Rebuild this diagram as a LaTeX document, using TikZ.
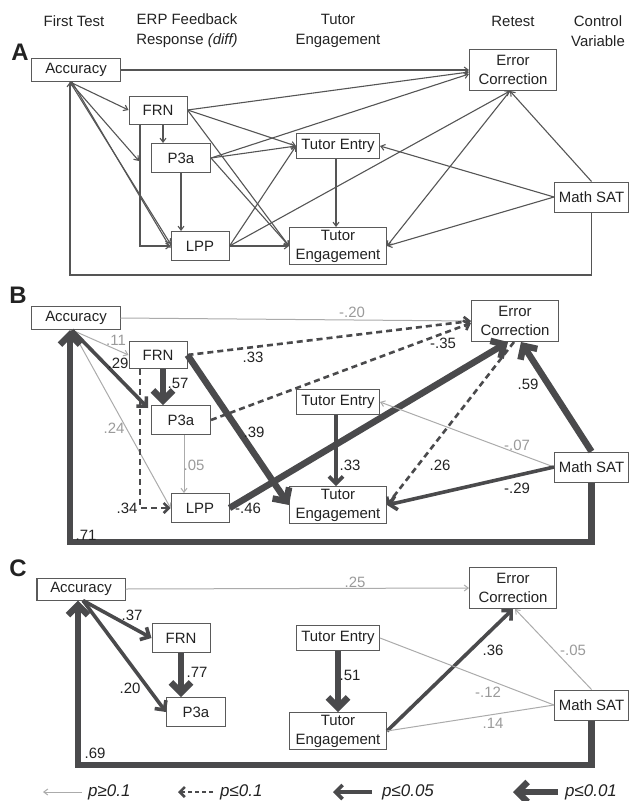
\documentclass[tikz,border=0pt]{standalone}
\usepackage{fontspec}
\setmainfont{Liberation Sans}
\usetikzlibrary{arrows.meta}
\definecolor{linedark}{HTML}{4A4A4C}
\definecolor{linemid}{HTML}{555555}
\definecolor{linelight}{HTML}{ABABAB}
\definecolor{boxline}{HTML}{5A5A5A}
\definecolor{txt}{HTML}{222222}
\definecolor{txtlight}{HTML}{9A9A9A}

\begin{document}
\begin{tikzpicture}[x=1bp, y=-1bp,
    font=\fontsize{15}{19}\selectfont,
    box/.style={draw=boxline, line width=1bp, fill=white, text=txt, inner sep=0pt, align=center},
    head/.style={text=txt, align=center, font=\fontsize{15}{20}\selectfont},
    panel/.style={text=txt, font=\fontsize{24}{24}\selectfont\bfseries},
    coef/.style={text=txt, inner sep=1bp},
    coefns/.style={text=txtlight, inner sep=1bp},
    legtext/.style={text=txt, anchor=west, inner sep=0pt, font=\fontsize{17}{17}\selectfont\itshape},
    path/.style={draw=linemid, line width=1.1bp, -{Straight Barb[length=4bp,width=6bp]}},
    nsig/.style={draw=linelight, line width=1bp, -{Straight Barb[length=4bp,width=6bp]}},
    sig10/.style={draw=linedark, line width=2.6bp, dash pattern=on 6bp off 4bp, -{Straight Barb[length=5bp,width=10bp]}},
    sig05/.style={draw=linedark, line width=3.6bp, -{Straight Barb[length=7bp,width=14bp]}},
    sig01/.style={draw=linedark, line width=6.5bp, -{Straight Barb[length=10bp,width=20bp]}}]

    \useasboundingbox (0,0) rectangle (629,801);

    %column headings
    \node at (74, 21) [head] (hFirst) {First Test};
    \node at (187, 31) [head] (hERP) {ERP Feedback\\Response \textit{(diff)}};
    \node at (338, 31) [head] (hTutor) {Tutor\\Engagement};
    \node at (513, 21) [head] (hRetest) {Retest};
    \node at (598, 31) [head] (hControl) {Control\\Variable};

    %%%% A: full model
    \node at (20, 52) [panel] (lblA) {A};
    \node at (76, 70) [box, minimum width=89bp, minimum height=23bp] (accA) {Accuracy};
    \node at (158, 110) [box, minimum width=58bp, minimum height=28bp] (frnA) {FRN};
    \node at (181, 158) [box, minimum width=59bp, minimum height=29bp] (p3aA) {P3a};
    \node at (200, 246) [box, minimum width=58bp, minimum height=29bp] (lppA) {LPP};
    \node at (338, 146) [box, minimum width=83bp, minimum height=25bp] (teA) {Tutor Entry};
    \node at (338, 246) [box, minimum width=97bp, minimum height=37bp] (tengA) {Tutor\\Engagement};
    \node at (513, 70) [box, minimum width=87bp, minimum height=41bp] (ecA) {Error\\Correction};
    \node at (591.5, 197) [box, minimum width=74bp, minimum height=30bp] (msatA) {Math SAT};
    \coordinate (cornerA) at (70, 275);

    \draw[path] (accA.east) -- (ecA.west);
    \draw[path] ([xshift=-6bp]accA.south) -- (frnA.west);
    \draw[path] ([xshift=-6bp]accA.south) -- ([xshift=-12bp,yshift=-3bp]p3aA.west);
    \draw[path] ([xshift=-6bp]accA.south) -- ([yshift=2bp]lppA.west);
    \draw[path] ([xshift=-4bp]accA.south) -- ([yshift=-2bp]lppA.west);
    \draw[path] ([xshift=-18bp]frnA.south) |- (lppA.west);
    \draw[path] ([xshift=5bp]frnA.south) -- ([xshift=5bp]frnA.south |- p3aA.north);
    \draw[path] (frnA.east) -- ([yshift=-2bp]ecA.west);
    \draw[path] (frnA.east) -- (teA.west);
    \draw[path] (frnA.east) -- (tengA.west);
    \draw[path] (p3aA.east) -- ([yshift=-4bp]ecA.west);
    \draw[path] (p3aA.east) -- (teA.west);
    \draw[path] (p3aA.east) -- (tengA.west);
    \draw[path] (p3aA.south) -- (p3aA.south |- lppA.north);
    \draw[path] (lppA.east) -- (teA.west);
    \draw[path] (lppA.east) -- ([xshift=-3bp]ecA.south);
    \draw[path] (lppA.east) -- (tengA.west);
    \draw[path] ([xshift=-2bp]teA.south) -- ([xshift=-2bp]teA.south |- tengA.north);
    \draw[path] (msatA.west) -- (teA.east);
    \draw[path] (msatA.west) -- (tengA.east);
    \draw[path] (msatA.north) -- ([xshift=-3bp]ecA.south);
    \draw[path] ([xshift=-3bp]ecA.south) -- (tengA.east);
    \draw[path] (msatA.south) |- (cornerA) -- (cornerA |- accA.south);

    %%%% B: ERP model
    \node at (18, 295) [panel] (lblB) {B};
    \node at (76, 318) [box, minimum width=88bp, minimum height=23bp] (accB) {Accuracy};
    \node at (158, 355) [box, minimum width=58bp, minimum height=27bp] (frnB) {FRN};
    \node at (181, 420) [box, minimum width=59bp, minimum height=29bp] (p3aB) {P3a};
    \node at (200, 508) [box, minimum width=58bp, minimum height=29bp] (lppB) {LPP};
    \node at (338, 402) [box, minimum width=83bp, minimum height=25bp] (teB) {Tutor Entry};
    \node at (338, 505) [box, minimum width=97bp, minimum height=37bp] (tengB) {Tutor\\Engagement};
    \node at (515, 321) [box, minimum width=87bp, minimum height=41bp] (ecB) {Error\\Correction};
    \node at (591.5, 467) [box, minimum width=74bp, minimum height=30bp] (msatB) {Math SAT};
    \coordinate (cornerB) at (70, 542);

    \draw[nsig] (accB.east) -- (ecB.west);
    \draw[nsig] ([xshift=-4bp]accB.south) -- (frnB.west);
    \draw[nsig] ([xshift=-4bp]accB.south) -- (lppB.west);
    \draw[sig05] ([xshift=-4bp]accB.south) -- ([xshift=-3bp,yshift=-3bp]p3aB.north west);
    \draw[sig10] (frnB.east) -- (ecB.west);
    \draw[sig10] (p3aB.east) -- ([yshift=-2bp]ecB.west);
    \draw[sig10] ([xshift=-18bp]frnB.south) |- (lppB.west);
    \draw[sig01] ([xshift=5bp]frnB.south) -- ([xshift=5bp]frnB.south |- p3aB.north);
    \draw[sig01] (frnB.east) -- (tengB.west);
    \draw[nsig] ([xshift=3bp]p3aB.south) -- ([xshift=3bp]p3aB.south |- lppB.north);
    \draw[sig01] (lppB.east) -- ([xshift=-7bp]ecB.south);
    \draw[sig05] ([xshift=-2bp]teB.south) -- ([xshift=-2bp]teB.south |- tengB.north);
    \draw[nsig] (msatB.west) -- (teB.east);
    \draw[sig05] (msatB.west) -- (tengB.east);
    \draw[sig01] (msatB.north) -- ([xshift=6bp]ecB.south);
    \draw[sig10] ([xshift=-1bp]ecB.south) -- (tengB.east);
    \draw[sig01] (msatB.south) |- (cornerB) -- (cornerB |- accB.south);

    \node at (116, 340) [coefns] (cB1) {.11};
    \node at (118, 363) [coef] (cB2) {.29};
    \node at (114, 428) [coefns] (cB3) {.24};
    \node at (352, 312) [coefns] (cB4) {-.20};
    \node at (253, 357) [coef] (cB5) {.33};
    \node at (443, 343) [coef] (cB6) {-.35};
    \node at (178, 383) [coef] (cB7) {.57};
    \node at (127, 508) [coef] (cB8) {.34};
    \node at (254, 432) [coef] (cB9) {.39};
    \node at (194, 465) [coefns] (cB10) {.05};
    \node at (248, 508) [coef] (cB11) {-.46};
    \node at (350, 465) [coef] (cB12) {.33};
    \node at (517, 445) [coefns] (cB13) {-.07};
    \node at (517, 488) [coef] (cB14) {-.29};
    \node at (528, 384) [coef] (cB15) {.59};
    \node at (440, 465) [coef] (cB16) {.26};
    \node at (86, 535) [coef] (cB17) {.71};

    %%%% C: reduced model
    \node at (18, 568) [panel] (lblC) {C};
    \node at (81, 589) [box, minimum width=88bp, minimum height=22bp] (accC) {Accuracy};
    \node at (181, 638) [box, minimum width=58bp, minimum height=29bp] (frnC) {FRN};
    \node at (196, 712) [box, minimum width=59bp, minimum height=29bp] (p3aC) {P3a};
    \node at (338, 638) [box, minimum width=83bp, minimum height=25bp] (teC) {Tutor Entry};
    \node at (338, 731) [box, minimum width=97bp, minimum height=37bp] (tengC) {Tutor\\Engagement};
    \node at (513, 588) [box, minimum width=87bp, minimum height=41bp] (ecC) {Error\\Correction};
    \node at (591.5, 705) [box, minimum width=74bp, minimum height=30bp] (msatC) {Math SAT};
    \coordinate (cornerC) at (78, 765);

    \draw[nsig] (accC.east) -- (ecC.west);
    \draw[sig05] ([xshift=2bp]accC.south) -- (frnC.west);
    \draw[sig05] ([xshift=2bp]accC.south) -- (p3aC.west);
    \draw[sig01] (frnC.south) -- (frnC.south |- p3aC.north);
    \draw[sig01] (teC.south) -- (teC.south |- tengC.north);
    \draw[sig05] (tengC.east) -- (ecC.south);
    \draw[nsig, -] (msatC.west) -- (teC.east);
    \draw[nsig, -] (msatC.west) -- (tengC.east);
    \draw[nsig] (msatC.north) -- ([xshift=2bp]ecC.south);
    \draw[sig01] (msatC.south) |- (cornerC) -- (cornerC |- accC.south);

    \node at (355, 582) [coefns] (cC1) {.25};
    \node at (132, 615) [coef] (cC2) {.37};
    \node at (197, 672) [coef] (cC3) {.77};
    \node at (130, 688) [coef] (cC4) {.20};
    \node at (95, 753) [coef] (cC5) {.69};
    \node at (350, 675) [coef] (cC6) {.51};
    \node at (493, 650) [coef] (cC7) {.36};
    \node at (573, 650) [coefns] (cC8) {-.05};
    \node at (488, 692) [coefns] (cC9) {-.12};
    \node at (493, 723) [coefns] (cC10) {.14};

    %legend
    \node at (88, 792) [legtext] (k1) {p≥0.1};
    \node at (220, 792) [legtext] (k2) {p≤0.1};
    \node at (382, 792) [legtext] (k3) {p≤0.05};
    \node at (565, 792) [legtext] (k4) {p≤0.01};
    \coordinate (k1tip) at (43, 792);
    \coordinate (k2tip) at (178, 792);
    \coordinate (k3tip) at (333, 792);
    \coordinate (k4tip) at (513, 792);
    \draw[nsig] ([xshift=-6bp]k1.west) -- (k1tip);
    \draw[sig10, dash pattern=on 4bp off 3bp] ([xshift=-7bp]k2.west) -- (k2tip);
    \draw[sig05] ([xshift=-10bp]k3.west) -- (k3tip);
    \draw[sig01] ([xshift=-7bp]k4.west) -- (k4tip);

\end{tikzpicture}
\end{document}
